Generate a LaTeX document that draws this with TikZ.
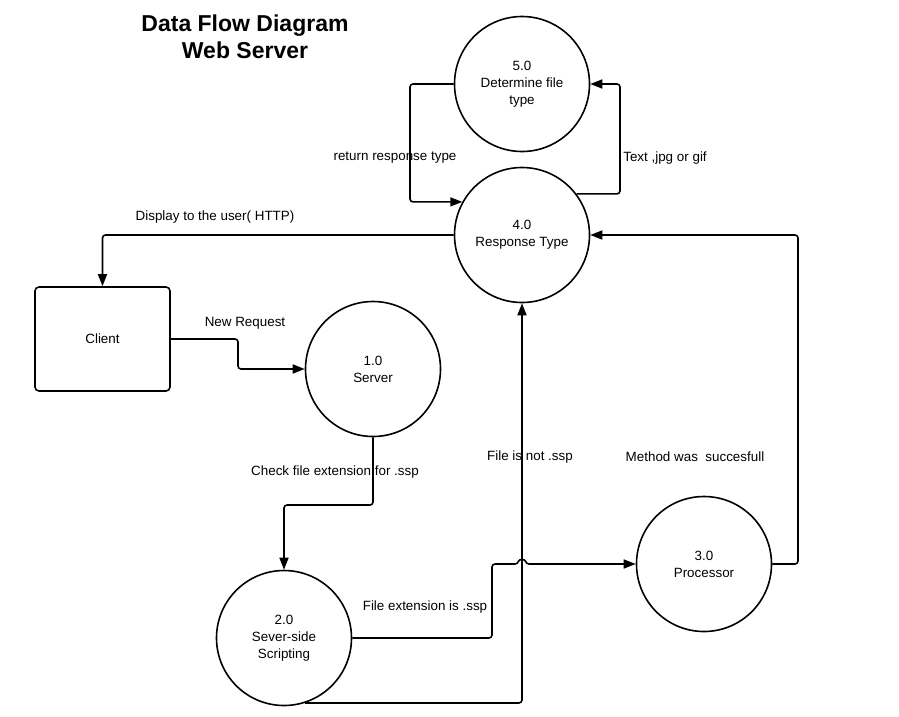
\documentclass[tikz,border=0pt]{standalone}
\usepackage{fontspec}
\setmainfont{Liberation Sans}
\usetikzlibrary{arrows.meta}
\begin{document}
\begin{tikzpicture}[x=1pt,y=-1pt,
  every node/.style={font=\fontsize{13.4}{17}\selectfont},
  proc/.style={draw,line width=1.6pt,circle,minimum size=135pt,inner sep=0pt,align=center},
  ent/.style={draw,line width=1.6pt,rounded corners=4pt,minimum width=135pt,minimum height=104pt,inner sep=0pt},
  flow/.style={line width=1.6pt,rounded corners=3pt,-{Triangle[length=12pt,width=9pt]}},
  lbl/.style={inner sep=1pt},
  ttl/.style={font=\fontsize{23}{27}\selectfont\bfseries,align=center}]
\useasboundingbox (0,0) rectangle (899,716);
\node[ttl] (title) at (245,37) {Data Flow Diagram\\Web Server};
\node[proc] (c5) at (522,84) {5.0\\Determine file\\type};
\node[proc] (c4) at (522,235) {4.0\\Response Type};
\node[proc] (c1) at (373,369) {1.0\\Server};
\node[proc] (c2) at (284,638) {2.0\\Sever-side\\Scripting};
\node[proc] (c3) at (704,564) {3.0\\Processor};
\node[ent] (client) at (102.5,339) {Client};
\coordinate (k1) at (620,84);
\coordinate (k2) at (410,150);
\coordinate (k3) at (238,350);
\coordinate (k4) at (330,505);
\coordinate (k5) at (492,600);
\coordinate (h1) at (518,564);
\coordinate (h2) at (526,564);
\coordinate (k6) at (798,400);
\draw[flow] (c4.37) -| (k1) -- (c5.east);
\draw[flow] (c5.west) -| (k2) |- (c4.151);
\draw[flow] (c4.west) -| (client.north);
\draw[flow] (client.east) -| (k3) |- (c1.west);
\draw[flow] (c1.south) |- (k4) -| (c2.north);
\draw[flow] (c2.-72) -| (c4.south);
\draw[flow] (c2.east) -| (k5) |- (h1) .. controls (519,559) and (525,559) .. (h2) -- (c3.west);
\draw[flow] (c3.east) -| (k6) |- (c4.east);
\node[lbl] (l1) at (395,158) {return response type};
\node[lbl] (l2) at (665,158) {Text ,jpg or gif};
\node[lbl] (l3) at (215,217) {Display to the user( HTTP)};
\node[lbl] (l4) at (245,323) {New Request};
\node[lbl] (l5) at (335,472) {Check file extension for .ssp};
\node[lbl] (l6) at (425,607) {File extension is .ssp};
\node[lbl] (l7) at (530,457) {File is not .ssp};
\node[lbl] (l8) at (695,457) {Method was\ \ succesfull};
\end{tikzpicture}
\end{document}
